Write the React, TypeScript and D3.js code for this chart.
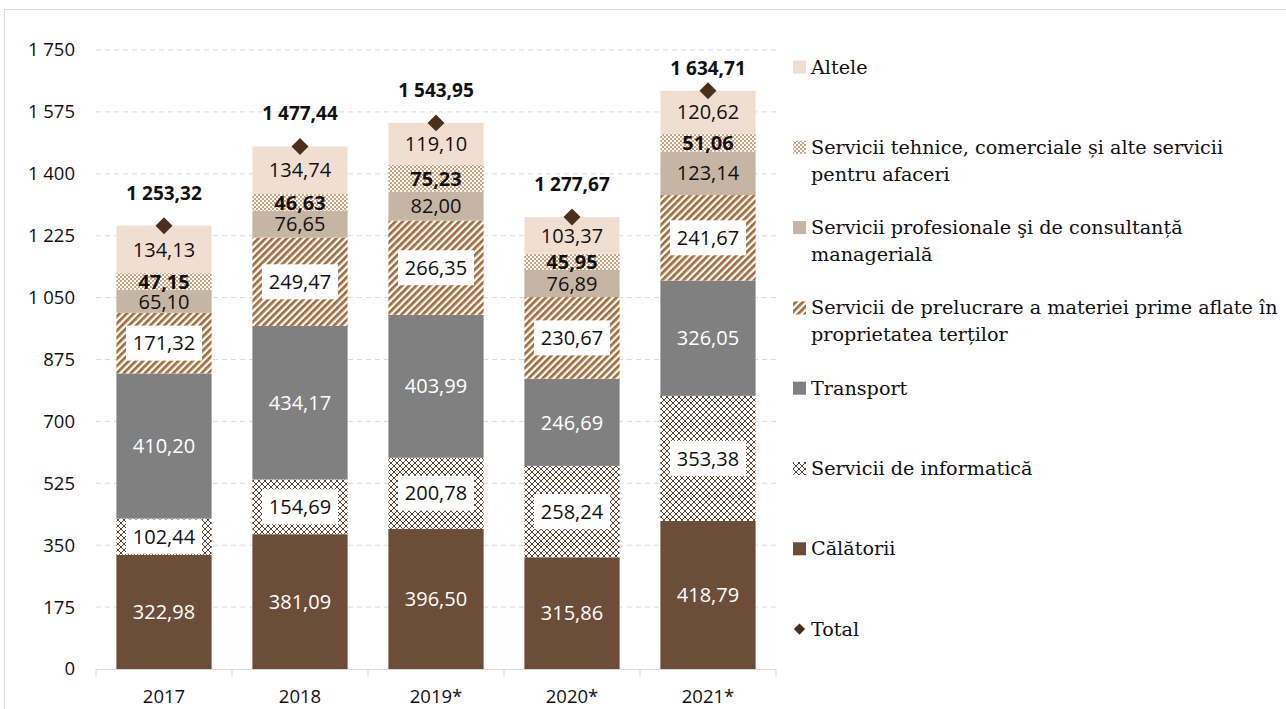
import * as d3 from 'd3';

const years = ['2017', '2018', '2019*', '2020*', '2021*'];
const calatorii = [322.98, 381.09, 396.5, 315.86, 418.79];
const informatica = [102.44, 154.69, 200.78, 258.24, 353.38];
const transport = [410.2, 434.17, 403.99, 246.69, 326.05];
const prelucrare = [171.32, 249.47, 266.35, 230.67, 241.67];
const profesionale = [65.1, 76.65, 82.0, 76.89, 123.14];
const tehnice = [47.15, 46.63, 75.23, 45.95, 51.06];
const altele = [134.13, 134.74, 119.1, 103.37, 120.62];
const totals = [1253.32, 1477.44, 1543.95, 1277.67, 1634.71];
const yTicks = [0, 175, 350, 525, 700, 875, 1050, 1225, 1400, 1575, 1750];

const locale = d3.formatLocale({ decimal: ',', thousands: '\u00a0', grouping: [3], currency: ['', ''] });
const fmt2 = locale.format(',.2f');
const fmt0 = locale.format(',d');

// stacking order bottom -> top
const series = [
  { key: 'cal', values: calatorii, fill: '#6B4D38', text: '#ffffff' },
  { key: 'inf', values: informatica, fill: 'url(#patInf)', text: '#111', boxed: true },
  { key: 'tra', values: transport, fill: '#808080', text: '#ffffff' },
  { key: 'pre', values: prelucrare, fill: 'url(#patPre)', text: '#111', boxed: true },
  { key: 'pro', values: profesionale, fill: '#C5B5A3', text: '#111' },
  { key: 'teh', values: tehnice, fill: 'url(#patTeh)', text: '#111', bold: true },
  { key: 'alt', values: altele, fill: '#F0DFD1', text: '#111' },
];

const legendItems = [
  { lines: ['Altele'], fill: '#F0DFD1' },
  { lines: ['Servicii tehnice, comerciale și alte servicii', 'pentru afaceri'], fill: 'url(#patTeh)' },
  { lines: ['Servicii profesionale şi de consultanță', 'managerială'], fill: '#C5B5A3' },
  { lines: ['Servicii de prelucrare a materiei prime aflate în', 'proprietatea terților'], fill: 'url(#patPre)' },
  { lines: ['Transport'], fill: '#808080' },
  { lines: ['Servicii de informatică'], fill: 'url(#patInf)' },
  { lines: ['Călătorii'], fill: '#6B4D38' },
  { lines: ['Total'], diamond: true },
];

const W = 1286;
const H = 709;
const numFont = '"Open Sans", "Noto Sans", sans-serif';
const serifFont = '"DejaVu Serif", "Liberation Serif", serif';

export default function App() {
  const x = d3.scaleBand<string>().domain(years).range([96, 776]);
  const y = d3.scaleLinear().domain([0, 1750]).range([669, 50]);
  const barW = x.bandwidth() * 0.7;

  const rows = years.map((yr, i) => {
    const r: Record<string, number | string> = { year: yr };
    series.forEach((s) => (r[s.key] = s.values[i]));
    return r;
  });
  const stacked = d3.stack<Record<string, number | string>>().keys(series.map((s) => s.key))(rows as any);

  return (
    <svg width={W} height={H} style={{ position: 'absolute', left: 0, top: 0, background: '#fff' }}>
      <defs>
        <pattern id="patInf" width={6} height={6} patternUnits="userSpaceOnUse">
          <rect width={6} height={6} fill="#ffffff" />
          <rect x={0} y={0} width={2} height={2} fill="#5A3F2C" />
          <rect x={3} y={3} width={2} height={2} fill="#5A3F2C" />
          <rect x={2} y={2} width={1} height={1} fill="#5A3F2C" />
          <rect x={5} y={5} width={1} height={1} fill="#5A3F2C" />
          <rect x={5} y={2} width={1} height={1} fill="#5A3F2C" />
          <rect x={2} y={5} width={1} height={1} fill="#5A3F2C" />
        </pattern>
        <pattern id="patTeh" width={4} height={4} patternUnits="userSpaceOnUse">
          <rect width={4} height={4} fill="#ffffff" />
          <rect width={2} height={2} fill="#D39F78" />
          <rect x={2} y={2} width={2} height={2} fill="#D39F78" />
        </pattern>
        <pattern id="patPre" width={5} height={5} patternUnits="userSpaceOnUse" patternTransform="rotate(45)">
          <rect width={5} height={5} fill="#ffffff" />
          <rect width={2.7} height={5} fill="#A46B3A" />
        </pattern>
      </defs>

      {/* chart border */}
      <rect x={4.5} y={9.5} width={1300} height={720} fill="none" stroke="#d9d9d9" strokeWidth={1} />

      {/* grid + y axis */}
      {yTicks.map((t) => (
        <g key={t}>
          {t > 0 && (
            <line x1={96} x2={776} y1={y(t)} y2={y(t)} stroke="#d9d9d9" strokeDasharray="5,4" strokeWidth={1} />
          )}
          <text x={75} y={y(t)} dy="0.35em" textAnchor="end" fontFamily={numFont} fontSize={18.5} fill="#111">
            {fmt0(t)}
          </text>
        </g>
      ))}

      {/* x axis */}
      <line x1={96} x2={776} y1={669.5} y2={669.5} stroke="#d9d9d9" strokeWidth={1} />
      {[...years.map((yr) => x(yr) as number), 776].map((v, i) => (
        <line key={i} x1={v} x2={v} y1={669} y2={676} stroke="#d9d9d9" />
      ))}
      {years.map((yr) => (
        <text
          key={yr}
          x={(x(yr) as number) + x.bandwidth() / 2}
          y={697}
          dy="0.35em"
          textAnchor="middle"
          fontFamily={numFont}
          fontSize={18.5}
          fill="#111"
        >
          {yr}
        </text>
      ))}

      {/* bars */}
      {stacked.map((layer, li) => {
        const s = series[li];
        return (
          <g key={s.key}>
            {layer.map((d, i) => {
              const bx = (x(years[i]) as number) + (x.bandwidth() - barW) / 2;
              const y0 = y(d[0]);
              const y1 = y(d[1]);
              return <rect key={i} x={bx} y={y1} width={barW} height={y0 - y1} fill={s.fill} />;
            })}
          </g>
        );
      })}

      {/* value labels */}
      {stacked.map((layer, li) => {
        const s = series[li];
        return (
          <g key={s.key + '-lab'}>
            {layer.map((d, i) => {
              const cx = (x(years[i]) as number) + x.bandwidth() / 2;
              const y0 = y(d[0]);
              const y1 = y(d[1]);
              const cy = (y0 + y1) / 2;
              const bh = Math.min(35, y0 - y1 - 2);
              return (
                <g key={i}>
                  {s.boxed && <rect x={cx - 38} y={cy - bh / 2} width={76} height={bh} fill="#ffffff" />}
                  <text
                    x={cx}
                    y={cy}
                    dy="0.36em"
                    textAnchor="middle"
                    fontFamily={numFont}
                    fontSize={20}
                    fontWeight={s.bold ? 700 : 400}
                    fill={s.text}
                  >
                    {fmt2(s.values[i])}
                  </text>
                </g>
              );
            })}
          </g>
        );
      })}

      {/* totals */}
      {totals.map((t, i) => {
        const cx = (x(years[i]) as number) + x.bandwidth() / 2;
        const cy = y(t);
        const ly = Math.max(cy - 33, 68);
        return (
          <g key={'tot' + i}>
            <rect x={-6} y={-6} width={12} height={12} fill="#4B2E1B" transform={`translate(${cx},${cy}) rotate(45)`} />
            <text
              x={cx}
              y={ly}
              dy="0.36em"
              textAnchor="middle"
              fontFamily={numFont}
              fontSize={19}
              fontWeight={700}
              fill="#111"
            >
              {fmt2(t)}
            </text>
          </g>
        );
      })}

      {/* legend */}
      {legendItems.map((item, i) => {
        const cy = 67 + i * 80.3;
        return (
          <g key={'leg' + i}>
            {item.diamond ? (
              <rect x={-4} y={-4} width={8} height={8} fill="#4B2E1B" transform={`translate(${799.5},${cy}) rotate(45)`} />
            ) : (
              <rect x={793} y={cy - 6.5} width={13} height={13} fill={item.fill} />
            )}
            {item.lines.map((ln, j) => (
              <text key={j} x={811} y={cy + 6.5 + j * 27} fontFamily={serifFont} fontSize={19.2} fill="#111">
                {ln}
              </text>
            ))}
          </g>
        );
      })}
    </svg>
  );
}
